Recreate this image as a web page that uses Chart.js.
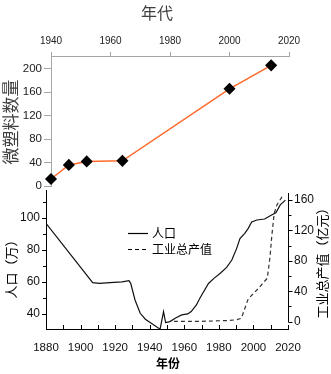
<!DOCTYPE html>
<html><head><meta charset="utf-8">
<script src="https://cdn.jsdelivr.net/npm/chart.js@4.4.0/dist/chart.umd.min.js"></script>
<style>
html,body{margin:0;padding:0;background:#fff;}
#wrap{position:relative;width:331px;height:374px;overflow:hidden;}
canvas{position:absolute;left:0;top:0;}
</style></head><body>
<div id="wrap">
<canvas id="bot" width="331" height="374"></canvas>
<canvas id="top" width="331" height="200"></canvas>
</div>
<script>
// ---- data ----
const mpYears = [1940, 1946, 1952, 1964, 2000, 2014];
const mpCounts = [12, 36, 42, 43, 166, 206];

const popYears = [1880, 1907, 1911, 1917, 1924, 1928, 1929, 1931.5, 1934.5, 1937.5, 1946, 1948, 1949.2, 1951.7, 1955, 1958.5, 1962, 1964, 1967, 1969, 1974, 1977, 1981, 1984.5, 1987.5, 1990.3, 1992.2, 1995, 1997, 1999, 2002, 2006.5, 2010.5, 2013, 2015.5, 2018.5];
const popValues = [96.5, 59.5, 59, 59.5, 60, 60.7, 59.1, 48.7, 40.4, 36.7, 30.5, 41.4, 34.6, 35.2, 37.5, 39.4, 40, 41.5, 45.6, 49.8, 59, 62, 65.5, 69, 73.6, 80.9, 87, 90.3, 93.4, 97.3, 98.6, 99.2, 101.7, 103.1, 108, 111];

const indYears = [1954, 1970, 1985, 1990, 1993, 1997, 2000, 2003, 2006, 2008, 2009.6, 2010.6, 2012, 2013.5, 2016.5];
const indValues = [0.5, 0.5, 1.5, 2.5, 4.5, 30, 37, 44, 52, 57, 85, 112, 142, 153, 164];

const topXTicks = [1940, 1960, 1980, 2000, 2020];
const topYTicks = [0, 40, 80, 120, 160, 200];
const botXTicks = [1880, 1890, 1900, 1910, 1920, 1930, 1940, 1950, 1960, 1970, 1980, 1990, 2000, 2010, 2020];
const popTicks = [40, 50, 60, 70, 80, 90, 100, 110];
const indTicks = [0, 20, 40, 60, 80, 100, 120, 140, 160];

const legendLabels = ['人口', '工业总产值'];

const NUMF = 'Liberation Sans, Arial, sans-serif';
const CJKF = '"Noto Sans CJK SC", sans-serif';

// ---- top chart ----
const topTitles = {
  id: 'topTitles',
  afterDraw(chart) {
    const ctx = chart.ctx;
    ctx.save();
    ctx.fillStyle = '#404040';
    ctx.font = '16px ' + CJKF;
    ctx.textAlign = 'center';
    ctx.textBaseline = 'middle';
    ctx.fillText('年代', 157, 13);
    ctx.translate(11, 122);
    ctx.rotate(-Math.PI / 2);
    ctx.font = '17px ' + CJKF;
    ctx.fillText('微塑料数量', 0, 0);
    ctx.restore();
  }
};

new Chart(document.getElementById('top'), {
  type: 'line',
  data: {
    datasets: [{
      data: mpYears.map((x, i) => ({ x: x, y: mpCounts[i] })),
      borderColor: '#ff6a2a',
      borderWidth: 1.5,
      pointStyle: 'rectRot',
      pointRadius: 5,
      pointBackgroundColor: '#000',
      pointBorderColor: '#000',
      tension: 0,
      clip: false
    }]
  },
  options: {
    responsive: false, animation: false, devicePixelRatio: 1,
    layout: { padding: { left: 0, right: 42, top: 0, bottom: 14 } },
    plugins: { legend: { display: false }, tooltip: { enabled: false } },
    scales: {
      x: {
        type: 'linear', position: 'top', min: 1940, max: 2020,
        afterBuildTicks: s => { s.ticks = topXTicks.map(v => ({ value: v })); },
        afterFit: s => { s.height = 56; },
        grid: { drawOnChartArea: false, drawTicks: true, tickLength: 4, color: '#a6a6a6' },
        border: { color: '#a6a6a6', width: 1 },
        ticks: { font: { size: 10, family: NUMF }, color: '#222', padding: 5, maxRotation: 0, callback: v => String(v) }
      },
      y: {
        type: 'linear', min: 0, max: 222,
        afterBuildTicks: s => { s.ticks = topYTicks.map(v => ({ value: v })); },
        afterFit: s => { s.width = 51; },
        grid: { drawOnChartArea: false, drawTicks: true, tickLength: 7, color: '#a6a6a6' },
        border: { color: '#a6a6a6', width: 1 },
        ticks: { font: { size: 11.5, family: NUMF }, color: '#222', padding: 2, callback: v => String(v) }
      }
    }
  },
  plugins: [topTitles]
});

// ---- bottom chart ----
const botExtras = {
  id: 'botExtras',
  afterDraw(chart) {
    const ctx = chart.ctx;
    const x = chart.scales.x, y = chart.scales.y, y1 = chart.scales.y1;
    const a = chart.chartArea;
    ctx.save();
    ctx.strokeStyle = '#000';
    ctx.lineWidth = 1;
    // bottom ticks (inward)
    botXTicks.forEach(v => {
      const px = Math.round(x.getPixelForValue(v)) + 0.5;
      ctx.beginPath(); ctx.moveTo(px, a.bottom); ctx.lineTo(px, a.bottom - 4); ctx.stroke();
    });
    // left ticks (outward)
    popTicks.forEach(v => {
      const py = Math.round(y.getPixelForValue(v)) + 0.5;
      const len = (v % 20 === 0) ? 4 : 3;
      ctx.beginPath(); ctx.moveTo(a.left, py); ctx.lineTo(a.left - len, py); ctx.stroke();
    });
    // right axis line from 0 upward
    const rx = Math.round(a.right) + 0.5;
    const y0 = y1.getPixelForValue(0);
    ctx.beginPath(); ctx.moveTo(rx, y0 + 0.5); ctx.lineTo(rx, a.top + 3); ctx.stroke();
    indTicks.forEach(v => {
      const py = Math.round(y1.getPixelForValue(v)) + 0.5;
      const len = (v % 40 === 0) ? 4 : 3;
      ctx.beginPath(); ctx.moveTo(rx, py); ctx.lineTo(rx + len, py); ctx.stroke();
    });
    // legend
    ctx.lineWidth = 1.2;
    ctx.beginPath(); ctx.moveTo(128, 233.5); ctx.lineTo(148, 233.5); ctx.stroke();
    ctx.setLineDash([4, 3]);
    ctx.beginPath(); ctx.moveTo(128, 249.5); ctx.lineTo(148, 249.5); ctx.stroke();
    ctx.setLineDash([]);
    ctx.fillStyle = '#000';
    ctx.font = '12px ' + CJKF;
    ctx.textAlign = 'left';
    ctx.textBaseline = 'middle';
    ctx.fillText(legendLabels[0], 152, 233);
    ctx.fillText(legendLabels[1], 152, 249);
    // axis titles
    ctx.textAlign = 'center';
    ctx.font = 'bold 12px ' + CJKF;
    ctx.fillText('年份', 168, 363);
    ctx.font = '13px ' + CJKF;
    ctx.save();
    ctx.translate(11, 266);
    ctx.rotate(-Math.PI / 2);
    ctx.fillText('人口（万）', 0, 0);
    ctx.restore();
    ctx.save();
    ctx.translate(322, 260);
    ctx.rotate(-Math.PI / 2);
    ctx.fillText('工业总产值（亿元）', 0, 0);
    ctx.restore();
    ctx.restore();
  }
};

new Chart(document.getElementById('bot'), {
  type: 'line',
  data: {
    datasets: [{
      label: legendLabels[0],
      data: popYears.map((x, i) => ({ x: x, y: popValues[i] })),
      yAxisID: 'y',
      borderColor: '#111',
      borderWidth: 1.2,
      pointRadius: 0,
      tension: 0
    }, {
      label: legendLabels[1],
      data: indYears.map((x, i) => ({ x: x, y: indValues[i] })),
      yAxisID: 'y1',
      borderColor: '#333',
      borderWidth: 1.2,
      borderDash: [4, 3],
      pointRadius: 0,
      tension: 0
    }]
  },
  options: {
    responsive: false, animation: false, devicePixelRatio: 1,
    layout: { padding: { left: 0, right: 0, top: 190, bottom: 0 } },
    plugins: { legend: { display: false }, tooltip: { enabled: false } },
    scales: {
      x: {
        type: 'linear', min: 1880, max: 2020,
        afterBuildTicks: s => { s.ticks = botXTicks.map(v => ({ value: v })); },
        afterFit: s => { s.height = 45; },
        grid: { drawOnChartArea: false, drawTicks: false },
        border: { color: '#000', width: 1 },
        ticks: { font: { size: 11.5, family: NUMF }, color: '#111', padding: 12, maxRotation: 0, autoSkip: false,
          callback: v => (v % 20 === 0 ? String(v) : '') }
      },
      y: {
        type: 'linear', position: 'left', min: 30.6, max: 117.3,
        afterBuildTicks: s => { s.ticks = popTicks.map(v => ({ value: v })); },
        afterFit: s => { s.width = 46; },
        grid: { drawOnChartArea: false, drawTicks: false },
        border: { color: '#000', width: 1 },
        ticks: { font: { size: 12, family: NUMF }, color: '#111', padding: 6, autoSkip: false,
          callback: v => (v % 20 === 0 ? String(v) : '') }
      },
      y1: {
        type: 'linear', position: 'right', min: -9.6, max: 173,
        afterBuildTicks: s => { s.ticks = indTicks.map(v => ({ value: v })); },
        afterFit: s => { s.width = 43; },
        grid: { drawOnChartArea: false, drawTicks: false },
        border: { display: false },
        ticks: { font: { size: 12, family: NUMF }, color: '#111', padding: 6, autoSkip: false,
          callback: v => (v % 40 === 0 ? String(v) : '') }
      }
    }
  },
  plugins: [botExtras]
});
</script>
</body></html>
